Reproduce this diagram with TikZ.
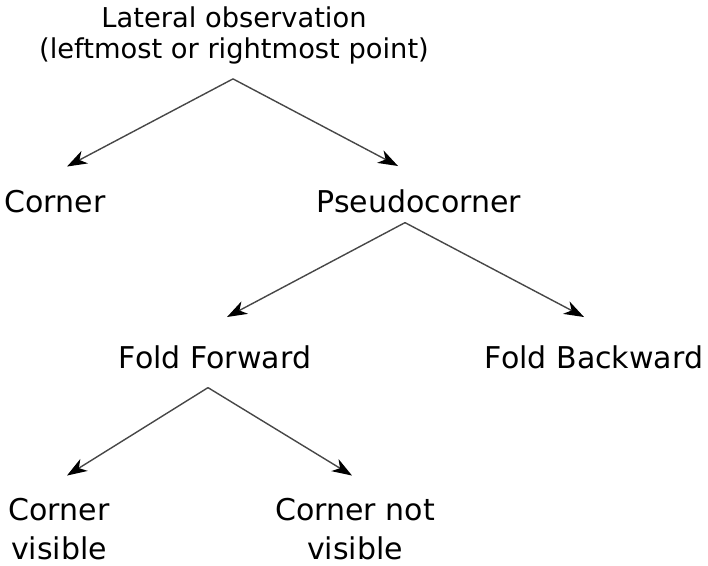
\documentclass[tikz,border=0pt]{standalone}
\usepackage{fontspec}
\setmainfont{DejaVu Sans}
\usetikzlibrary{arrows.meta}

\tikzset{
  leaf/.style={inner sep=0pt, anchor=base, align=center,
    font=\fontsize{30}{39}\selectfont},
  rootbox/.style={leaf, font=\fontsize{27.3}{31}\selectfont},
  branch/.style={line width=1.4pt, draw=black!72,
    -{Stealth[length=20pt, width=14pt, inset=6pt, black]}},
}

\begin{document}
\begin{tikzpicture}[x=1pt, y=-1pt]
  \useasboundingbox (0,0) rectangle (708,565);

  % Root question (base = last line)
  \node[rootbox] (lateral) at (234, 58)
    {Lateral observation\\(leftmost or rightmost point)};

  % First split
  \node[leaf] (corner) at (55, 212) {Corner};
  \node[leaf] (pseudo) at (419, 212) {Pseudocorner};

  % Pseudocorner cases
  \node[leaf] (fwd) at (215, 368) {Fold Forward};
  \node[leaf] (bwd) at (594, 368) {Fold Backward};

  % Fold forward cases
  \node[leaf] (cvis)  at (59, 559) {Corner\\visible};
  \node[leaf] (cnvis) at (355, 559) {Corner not\\visible};

  % Branches
  \draw[branch] ([xshift=-1pt, yshift=-15pt]lateral.south) -- ([xshift=12pt, yshift=23pt]corner.north);
  \draw[branch] ([xshift=-1pt, yshift=-15pt]lateral.south) -- ([xshift=-21pt, yshift=23pt]pseudo.north);
  \draw[branch] ([xshift=-14pt, yshift=-10pt]pseudo.south) -- ([xshift=12pt, yshift=28pt]fwd.north);
  \draw[branch] ([xshift=-14pt, yshift=-10pt]pseudo.south) -- ([xshift=-10pt, yshift=28pt]bwd.north);
  \draw[branch] ([xshift=-7pt, yshift=-19pt]fwd.south) -- ([xshift=8pt, yshift=22pt]cvis.north);
  \draw[branch] ([xshift=-7pt, yshift=-19pt]fwd.south) -- ([xshift=-3pt, yshift=22pt]cnvis.north);
\end{tikzpicture}
\end{document}
